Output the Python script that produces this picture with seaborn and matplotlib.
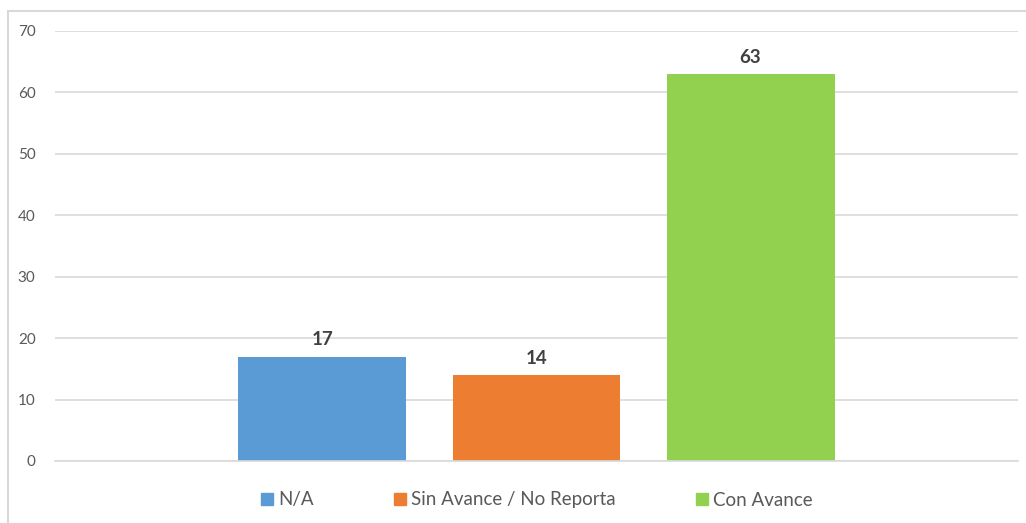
import matplotlib
matplotlib.use("Agg")
import matplotlib.pyplot as plt
import seaborn as sns
import pandas as pd
from matplotlib.lines import Line2D

categories = ["Total"]
series = ["N/A", "Sin Avance / No Reporta", "Con Avance"]
values = [17, 14, 63]
colors = ["#5B9BD5", "#ED7D31", "#92D050"]
yticks = [0, 10, 20, 30, 40, 50, 60, 70]

df = pd.DataFrame({"cat": categories * len(series), "serie": series, "val": values})

sns.set_theme(style="white")
plt.rcParams["font.family"] = ["Lato", "DejaVu Sans"]

fig = plt.figure(figsize=(10.26, 5.23), dpi=100)
ax = fig.add_axes([55 / 1026, 62 / 523, 963 / 1026, 430 / 523])

sns.barplot(data=df, x="cat", y="val", hue="serie", hue_order=series,
            palette=colors, width=0.6667, gap=0.215, ax=ax, legend=False,
            saturation=1, edgecolor="none")

ax.set_xlim(-0.5, 0.5)
ax.set_ylim(0, 70)
ax.set_yticks(yticks)
ax.set_yticklabels([str(t) for t in yticks], color="#595959", fontsize=11)
ax.tick_params(axis="y", length=0, pad=14)
ax.set_xticks([])
ax.set_xlabel("")
ax.set_ylabel("")
ax.grid(axis="y", color="#D9D9D9", linewidth=1.2)
ax.set_axisbelow(True)
for s in ["left", "right", "top"]:
    ax.spines[s].set_visible(False)
ax.spines["bottom"].set_color("#D9D9D9")
ax.spines["bottom"].set_linewidth(1.2)

for cont in ax.containers:
    ax.bar_label(cont, fmt="%d", padding=6, fontsize=13.5, fontweight="bold", color="#404040")

handles = [Line2D([0], [0], marker="s", linestyle="none", markersize=8,
                  markerfacecolor=c, markeredgecolor=c) for c in colors]
fig.legend(handles, series, loc="center", bbox_to_anchor=(537 / 1026, 1 - 500 / 523),
           ncol=3, frameon=False, fontsize=13.5, handlelength=0.65, handletextpad=0.25,
           columnspacing=4.3, labelcolor="#595959")

# chart frame
fig.add_artist(Line2D([8 / 1026, 8 / 1026], [0, 1 - 11 / 523], color="#D9D9D9", linewidth=1.5,
                      transform=fig.transFigure))
fig.add_artist(Line2D([8 / 1026, 1], [1 - 11 / 523, 1 - 11 / 523], color="#D9D9D9", linewidth=1.5,
                      transform=fig.transFigure))

fig.savefig("out.png", dpi=100)
